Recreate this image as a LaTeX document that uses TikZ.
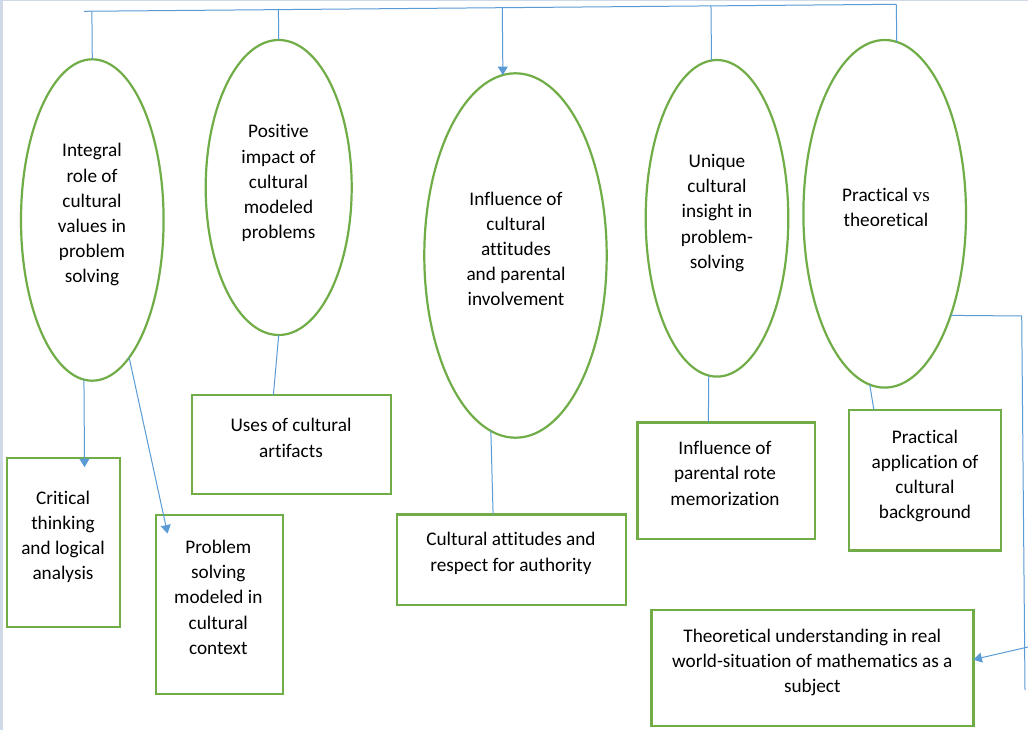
\documentclass[tikz,border=0pt]{standalone}
\usepackage{fontspec}
\setmainfont{Carlito}[Ligatures={NoCommon}]
\newfontfamily\vsfont{Liberation Serif}
\usetikzlibrary{arrows.meta,shapes.geometric,calc}
\definecolor{grn}{HTML}{70AD47}
\definecolor{blu}{HTML}{5B9BD5}
\definecolor{pageedge}{HTML}{D0D9E8}
\begin{document}
\begin{tikzpicture}[x=1pt,y=-1pt,
  ell/.style={ellipse, draw=grn, line width=2.2pt, inner sep=0pt, outer sep=0pt},
  box/.style={rectangle, draw=grn, line width=2.4pt, inner sep=0pt, outer sep=0pt},
  txt/.style={align=center, font=\fontsize{19.25}{25.2}\selectfont, inner sep=0pt,
    execute at begin node=\strut, execute at end node=\strut},
  con/.style={draw=blu, line width=1pt},
  arr/.style={con, -{Triangle[width=10pt,length=8.5pt]}}]
\useasboundingbox (0,0) rectangle (1028,730);
\fill[white] (0,0) rectangle (1028,730);
\fill[pageedge] (0,0) rectangle (3,730);
\fill[pageedge] (0,0) rectangle (1028,1.2);

% ellipses
\node[ell, minimum width=142.6pt, minimum height=321.4pt] (e1) at (92.3,220) {};
\node[ell, minimum width=146pt, minimum height=295pt] (e2) at (278.7,187.5) {};
\node[ell, minimum width=182.4pt, minimum height=364.4pt] (e3) at (515.5,255.5) {};
\node[ell, minimum width=142.6pt, minimum height=316.6pt] (e4) at (717,218.3) {};
\node[ell, minimum width=162.6pt, minimum height=347.6pt] (e5) at (884.7,213.8) {};

% boxes
\node[box, minimum width=113.3pt, minimum height=169.3pt] (b1) at (63.35,542.35) {};
\node[box, minimum width=127.3pt, minimum height=178.7pt] (b2) at (219.35,604.35) {};
\node[box, minimum width=199.3pt, minimum height=98.7pt] (b3) at (291.35,444.35) {};
\node[box, minimum width=229.3pt, minimum height=90.4pt] (b4) at (511.35,559.5) {};
\node[box, minimum width=177.7pt, minimum height=116.4pt] (b5) at (726.15,480.5) {};
\node[box, minimum width=151.7pt, minimum height=140.3pt] (b6) at (924.85,480.15) {};
\node[box, minimum width=321.7pt, minimum height=116pt] (b7) at (812.5,668) {};

% texts
\node[txt] (t1) at (92,217) {Integral\\role of\\cultural\\values in\\problem\\solving};
\node[txt] (t2) at (278.5,185.5) {Positive\\impact of\\cultural\\modeled\\problems};
\node[txt] (t3) at (516,252.5) {Influence of\\cultural\\attitudes\\and parental\\involvement};
\node[txt] (t4) at (717,215) {Unique\\cultural\\insight in\\problem-\\solving};
\node[txt] (t5) at (886,211) {Practical\ {\vsfont vs}\\theoretical};
\node[txt] (u1) at (63,539) {Critical\\thinking\\and logical\\analysis};
\node[txt] (u2) at (218.3,601) {Problem\\solving\\modeled in\\cultural\\context};
\node[txt] (u3) at (291,441.5) {Uses of cultural\\artifacts};
\node[txt] (u4) at (511,555.5) {Cultural attitudes and\\respect for authority};
\node[txt] (u5) at (725,477) {Influence of\\parental rote\\memorization};
\node[txt] (u6) at (925,478) {Practical\\application of\\cultural\\background};
\node[txt] (u7) at (812.3,664.5) {Theoretical understanding in real\\world-situation of mathematics as a\\subject};

% top bar and drops
\coordinate (tl) at (84,11.3);
\coordinate (tr) at (896,4.3);
\draw[con] (tl) -- (tr);
\draw[con] ($(tl)!(e1.north)!(tr)$) -- (e1.north);
\draw[con] ($(tl)!(e2.north)!(tr)$) -- (e2.north);
\draw[arr] ($(tl)!(e3.94.6)!(tr)$) -- (e3.94.6);
\draw[con] ($(tl)!(e4.92.2)!(tr)$) -- (e4.92.2);
\draw[con] ($(tl)!(e5.86.4)!(tr)$) -- (e5.86.4);

% ellipse to box connectors
\draw[arr, shorten >=-9.5pt] (e1.267.7) -- (b1.76.7);
\draw[arr, shorten >=-19pt] (e1.285.3) -- (b2.122.65);
\draw[con] (e2.south) -- (b3.110.1);
\draw[con] (e3.262.5) -- (b4.112.4);
\draw[con] (e4.267.6) -- (b5.107.95);
\draw[con] (e5.265.9) -- (b6.126.6);

% right side connector
\coordinate (c1) at (1021.7,316);
\coordinate (c2) at (1025,690);
\coordinate (c3) at (1028,647);
\draw[con] (e5.303.1) -- (c1) -- (c2);
\draw[arr] (c3) -- (b7.3.7);
\end{tikzpicture}
\end{document}
